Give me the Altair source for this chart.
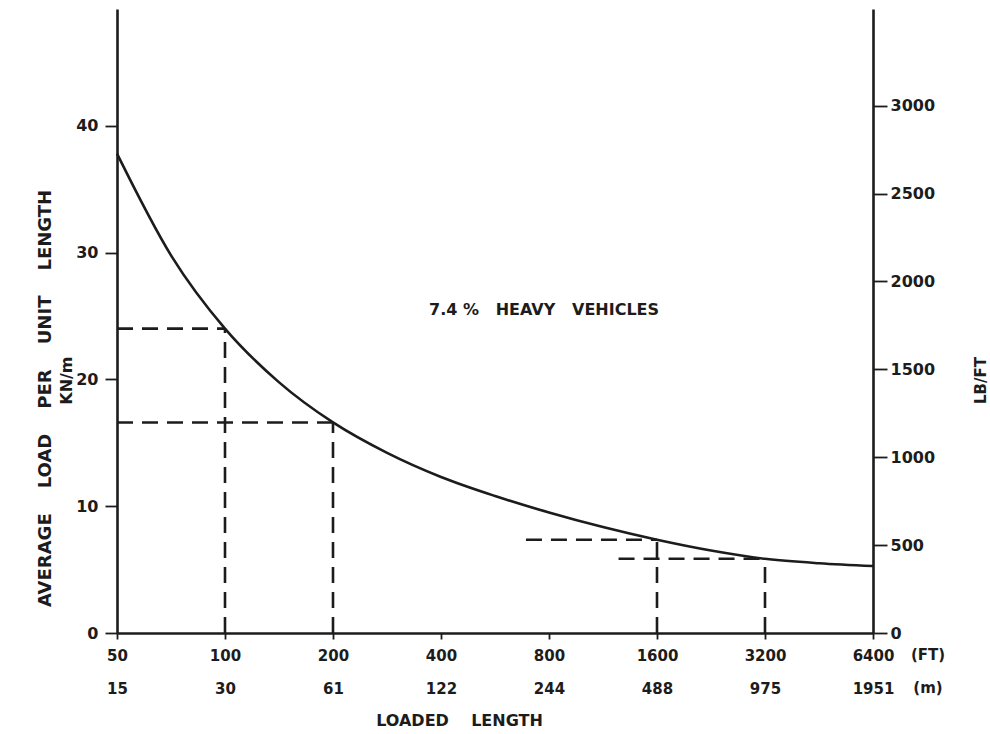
import altair as alt
import pandas as pd

# ---- data ----
ft = [50, 71, 100, 141, 200, 283, 400, 566, 800, 1131, 1600, 2263, 3200, 4525, 6400]
kn = [37.8, 29.7, 24.0, 19.8, 16.6, 14.2, 12.3, 10.8, 9.5, 8.35, 7.35, 6.5, 5.85, 5.5, 5.28]

ft_ticks = [50, 100, 200, 400, 800, 1600, 3200, 6400]
ft_labels = ["50", "100", "200", "400", "800", "1600", "3200", "6400"]
m_labels = ["15", "30", "61", "122", "244", "488", "975", "1951"]
kn_ticks = [0, 10, 20, 30, 40]
lb_ticks = [0, 500, 1000, 1500, 2000, 2500, 3000]

# dashed reading lines (x in ft, y in kN/m)
seg_x1 = [50, 100, 50, 200, 690, 1600, 1250, 3200]
seg_x2 = [100, 100, 200, 200, 1600, 1600, 3200, 3200]
seg_y1 = [24.0, 0, 16.6, 0, 7.35, 0, 5.85, 0]
seg_y2 = [24.0, 24.0, 16.6, 16.6, 7.35, 7.35, 5.85, 5.85]

NB = "\u00a0"
note_text = ["7.4" + NB + "%" + NB * 3 + "HEAVY" + NB * 3 + "VEHICLES"]
note_x = [775]
note_y = [25.5]

FONT = "DejaVu Sans"
INK = "#1c1c1c"
W, H = 756, 624

xs = alt.Scale(type="log", base=2, domain=[50, 6400], nice=False)
ys = alt.Scale(domain=[0, 49.2], nice=False, zero=True)
ys_lb = alt.Scale(domain=[0, 3550], nice=False, zero=True)

label_expr = "[" + "".join(
    f"datum.value == {v} ? '{a}' : " for v, a in zip(ft_ticks, ft_labels)
) + "'', " + "".join(
    f"datum.value == {v} ? '{b}' : " for v, b in zip(ft_ticks, m_labels)
) + "'']"

x_axis = alt.Axis(
    values=ft_ticks, labelExpr=label_expr, title="LOADED" + NB * 4 + "LENGTH",
    tickSize=6, labelPadding=9, labelLineHeight=33, labelFontSize=15,
    titleX=342, titleY=87, titleBaseline="middle", titleFontSize=16,
    labelFlush=False, labelOverlap=False, orient="bottom",
)
y_axis = alt.Axis(
    values=kn_ticks,
    title=(NB * 4).join(["AVERAGE", "LOAD", "PER", "UNIT", "LENGTH"]),
    tickSize=12, labelPadding=7, labelFontSize=16, orient="left",
    titleX=-72, titleY=389, titleAngle=270, titleAlign="center",
    titleBaseline="middle", titleFontSize=18,
)
y_axis_lb = alt.Axis(
    values=lb_ticks, format="d", title="LB/FT", orient="right",
    tickSize=14, labelPadding=3, labelFontSize=16,
    titleX=107, titleY=371, titleAngle=270, titleAlign="center",
    titleBaseline="middle", titleFontSize=15,
)

curve_df = pd.DataFrame({"ft": ft, "kn": kn})
seg_df = pd.DataFrame({"x1": seg_x1, "x2": seg_x2, "y1": seg_y1, "y2": seg_y2})
note_df = pd.DataFrame({"text": note_text, "x": note_x, "y": note_y})

curve = alt.Chart(curve_df).mark_line(
    color=INK, strokeWidth=2.6, interpolate="monotone"
).encode(
    x=alt.X("ft:Q", scale=xs, axis=x_axis),
    y=alt.Y("kn:Q", scale=ys, axis=y_axis),
)

dashes = alt.Chart(seg_df).mark_rule(
    color=INK, strokeWidth=2.6, strokeDash=[16, 9]
).encode(
    x=alt.X("x1:Q", scale=xs),
    x2="x2:Q",
    y=alt.Y("y1:Q", scale=ys),
    y2="y2:Q",
)

note = alt.Chart(note_df).mark_text(
    font=FONT, fontSize=16, fontWeight="bold", color=INK
).encode(
    x=alt.X("x:Q", scale=xs),
    y=alt.Y("y:Q", scale=ys),
    text="text:N",
)

ft_unit = alt.Chart(pd.DataFrame({"t": ["(FT)"]})).mark_text(
    font=FONT, fontSize=15, fontWeight="bold", color=INK, dx=55, dy=22
).encode(x=alt.datum(6400, scale=xs), y=alt.datum(0, scale=ys), text="t:N")

m_unit = alt.Chart(pd.DataFrame({"t": ["(m)"]})).mark_text(
    font=FONT, fontSize=15, fontWeight="bold", color=INK, dx=55, dy=55
).encode(x=alt.datum(6400, scale=xs), y=alt.datum(0, scale=ys), text="t:N")

kn_unit = alt.Chart(pd.DataFrame({"t": ["KN/m"]})).mark_text(
    font=FONT, fontSize=16, fontWeight="bold", color=INK, dy=-50, angle=270
).encode(x=alt.datum(50, scale=xs), y=alt.datum(19.9, scale=ys), text="t:N")

left = alt.layer(curve, dashes, note, ft_unit, m_unit, kn_unit)

right = alt.Chart(pd.DataFrame({"lb": [0]})).mark_point(opacity=0).encode(
    y=alt.Y("lb:Q", scale=ys_lb, axis=y_axis_lb),
)

chart = alt.layer(left, right).resolve_scale(y="independent").properties(
    width=W, height=H,
    padding={"left": 117, "top": 9, "right": 117, "bottom": 101},
    autosize=alt.AutoSizeParams(type="none"),
    background="white",
).configure_axis(
    grid=False, domainColor=INK, domainWidth=2.6, tickColor=INK, tickWidth=1.8,
    labelFont=FONT, titleFont=FONT, labelFontWeight="bold", titleFontWeight="bold",
    labelColor=INK, titleColor=INK,
).configure_view(stroke=None)

chart.save("out.html", embed_options={"renderer": "svg", "actions": False})
